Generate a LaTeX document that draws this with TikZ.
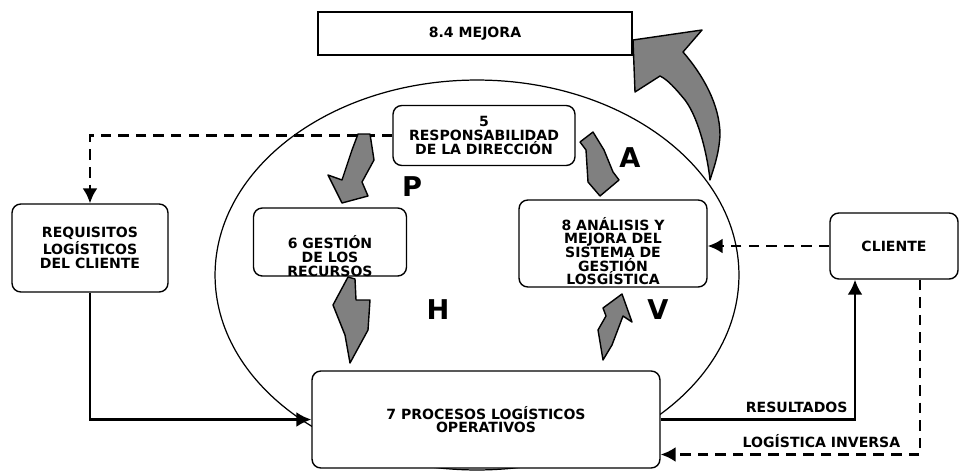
\documentclass[tikz,border=0pt]{standalone}
\usepackage{fontspec}
\setmainfont{DejaVu Sans}
\usetikzlibrary{arrows.meta}

\begin{document}
\begin{tikzpicture}[x=0.02cm,y=-0.02cm,
    caja/.style={draw,fill=white,rounded corners=5pt,line width=0.8pt,inner sep=1pt},
    texto/.style={font=\bfseries\fontsize{8}{7.8}\selectfont,align=center},
    letra/.style={font=\bfseries\fontsize{15.5}{15.5}\selectfont},
    flecha/.style={draw,fill=black!50,line width=0.8pt,line join=round},
    enlace/.style={line width=1.5pt,-{Latex[length=8.5pt,width=8.5pt]}},
    discontinuo/.style={dash pattern=on 6pt off 4pt}]
    \useasboundingbox (0,0) rectangle (960,470);
    % ciclo
    \draw[line width=0.7pt] (477,275) ellipse [x radius=5.24cm, y radius=3.9cm];
    % cajas
    \node [draw,fill=white,line width=0.8pt,minimum width=6.28cm,minimum height=0.86cm,texto] (mejora) at (475,33.5) {8.4 MEJORA};
    \node [caja,texto,minimum width=3.64cm,minimum height=1.2cm] (direccion) at (484,135.5) {5\\RESPONSABILIDAD\\DE LA DIRECCIÓN};
    \node [caja,minimum width=3.06cm,minimum height=1.36cm] (recursos) at (330,242) {};
    \node [texto] at (330,256) {6 GESTIÓN\\DE LOS\\RECURSOS};
    \node [caja,minimum width=3.76cm,minimum height=1.74cm] (analisis) at (613,243.5) {};
    \node [texto] at (613,251) {8 ANÁLISIS Y\\MEJORA DEL\\SISTEMA DE\\GESTIÓN\\LOSGÍSTICA};
    \node [caja,texto,minimum width=3.12cm,minimum height=1.76cm] (requisitos) at (90,248) {REQUISITOS\\LOGÍSTICOS\\DEL CLIENTE};
    \node [caja,texto,minimum width=6.96cm,minimum height=1.94cm] (procesos) at (486,419.5) {7 PROCESOS LOGÍSTICOS\\OPERATIVOS};
    \node [caja,texto,minimum width=2.56cm,minimum height=1.32cm] (cliente) at (894,246) {CLIENTE};
    % enlaces
    \draw [enlace,discontinuo] (direccion.west) -| (requisitos.north);
    \draw [enlace] (requisitos.south) |- (procesos.west);
    \draw [enlace,discontinuo] (cliente.west) -- (cliente.west -| analisis.east);
    \draw [enlace] (procesos.east) -| ([xshift=-0.78cm]cliente.south)
        node [pos=0.35,above,texto] {RESULTADOS};
    \draw [enlace,discontinuo] ([xshift=0.52cm]cliente.south) |- ([yshift=-0.7cm]procesos.east)
        node [pos=0.69,above,texto] {LOGÍSTICA INVERSA};
    % flechas grises
    \draw [flecha] (358,134) -- (370,134) -- (374,160) -- (362,182) -- (368,196) -- (342,203) -- (328,175) -- (342,180) -- (352,150) -- cycle;
    \draw [flecha] (348,277) -- (355,279) -- (356,300) -- (370,300) -- (368,330) -- (350,363) -- (345,335) -- (333,305) -- cycle;
    \draw [flecha] (622,294) -- (632,322) -- (623,316) -- (612,345) -- (603,360) -- (598,330) -- (606,316) -- (603,308) -- cycle;
    \draw [flecha] (593,132) -- (604,150) -- (613,172) -- (619,180) -- (600,196) -- (588,182) -- (586,150) -- (580,142) -- cycle;
    \draw [flecha] (635,92) -- (633,40) -- (702,30) -- (683,52)
        .. controls (703,75) and (720,105) .. (720,135)
        .. controls (719,155) and (713,170) .. (710,180)
        .. controls (708,160) and (700,120) .. (685,100)
        .. controls (675,88) and (668,80) .. (660,76) -- cycle;
    % letras
    \node [letra] at (412,187) {P};
    \node [letra] at (630,158) {A};
    \node [letra] at (438,310) {H};
    \node [letra] at (658,310) {V};
\end{tikzpicture}
\end{document}
